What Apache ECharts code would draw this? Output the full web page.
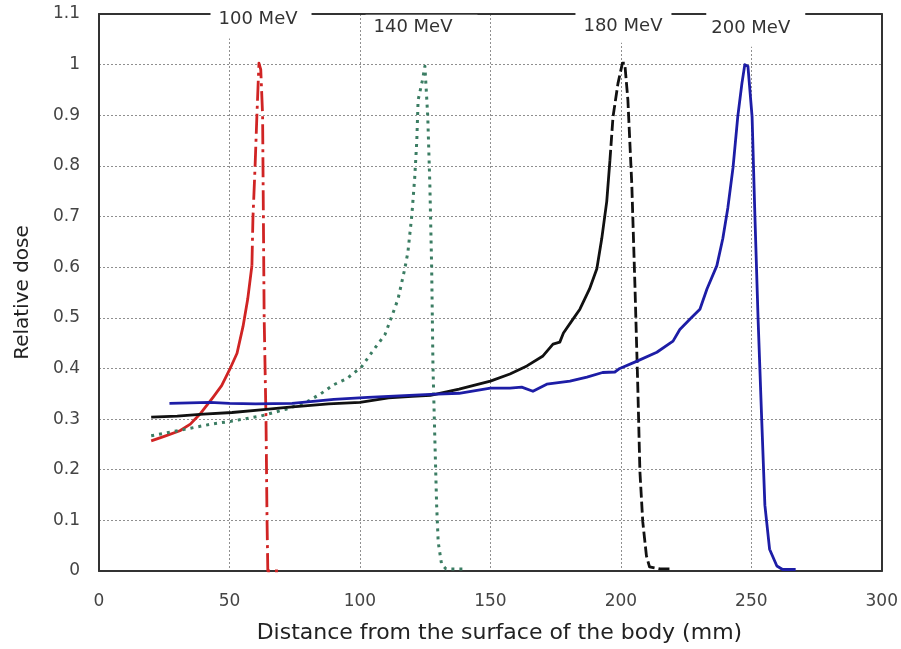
<!DOCTYPE html>
<html>
<head>
<meta charset="utf-8">
<script src="https://cdn.jsdelivr.net/npm/echarts@6/dist/echarts.min.js"></script>
<style>
  html, body { margin: 0; padding: 0; background: #fff; }
  #chart { width: 901px; height: 649px; }
</style>
</head>
<body>
<div id="chart"></div>
<script>
// Depth-dose curves, [depth (mm), relative dose]
// 100 MeV: proximal part (solid) and peak/fall-off (dash-dot)
const dose100Entrance = [[20,0.257],[25,0.266],[31,0.277],[35,0.29],[38.7,0.31],[41,0.325],[43.7,0.343],[47,0.366],[50,0.397],[52.9,0.43],[55.2,0.483],[57,0.537],[58.6,0.603]];
const dose100Peak = [[58.6,0.603],[59,0.697],[59.8,0.797],[60.5,0.897],[61.3,1.003],[62,0.99],[62.7,0.9],[63,0.7],[63.3,0.5],[64,0.3],[64.4,0.1],[64.7,0.0],[70,0.0]];
// 140 MeV (dotted)
const dose140 = [[20,0.267],[28,0.275],[35,0.282],[43,0.29],[51,0.296],[62,0.306],[72,0.32],[80,0.335],[85,0.35],[90,0.368],[95,0.38],[100.6,0.403],[105,0.435],[109.6,0.467],[112,0.5],[114.6,0.537],[117.2,0.597],[118.4,0.63],[119.9,0.703],[121,0.777],[121.8,0.85],[122.3,0.93],[124,0.97],[124.9,0.997],[126,0.897],[126.8,0.763],[127.5,0.597],[128,0.403],[128.7,0.263],[129.4,0.13],[130,0.057],[131.3,0.013],[133,0.004],[141,0.004]];
// 180 MeV: entrance (solid) and peak/fall-off (dashed)
const dose180Entrance = [[20,0.304],[30,0.306],[40,0.31],[51,0.313],[62,0.318],[72,0.323],[88,0.33],[100,0.333],[111,0.342],[120,0.345],[127,0.347],[138,0.359],[150,0.375],[157.5,0.389],[164,0.405],[170,0.424],[174,0.448],[176.6,0.452],[178,0.47],[181.6,0.497],[184.3,0.517],[188,0.557],[190.8,0.597],[192.7,0.657],[194.6,0.73],[195.8,0.81]];
const dose180Peak = [[195.8,0.81],[197,0.897],[198.9,0.963],[200.6,1.003],[201.5,1.003],[202.7,0.93],[204.2,0.763],[205.4,0.563],[206.5,0.363],[207.3,0.197],[208.4,0.097],[209.8,0.03],[211,0.008],[215,0.004],[220,0.004]];
// 200 MeV (solid)
const dose200 = [[27,0.331],[42.5,0.333],[50,0.331],[60,0.33],[74,0.331],[90,0.339],[103,0.343],[115,0.346],[127,0.349],[138,0.351],[150,0.361],[157.5,0.361],[162,0.363],[166.3,0.355],[171.6,0.369],[180.5,0.375],[187,0.383],[193,0.392],[197.7,0.393],[199.6,0.4],[206,0.414],[213.8,0.432],[220,0.454],[222.6,0.477],[227,0.5],[230.3,0.517],[233,0.557],[236.8,0.603],[239.1,0.657],[241,0.717],[243,0.797],[244.8,0.897],[246.4,0.963],[247.5,1.0],[248.7,0.997],[250.3,0.897],[251.4,0.697],[252.6,0.497],[254,0.297],[255.2,0.13],[257,0.043],[259.8,0.01],[262,0.003],[267,0.003]];

// Beam energy captions along the top edge
const energyNames = ['100 MeV', '140 MeV', '180 MeV', '200 MeV'];
const energyX = [62.1, 123.6, 201, 251.7];
const energyY = [1.089, 1.073, 1.075, 1.071];

// Axis ranges
const depthMin = 0, depthMax = 300, depthStep = 50;
const doseMin = 0, doseMax = 1.1, doseStep = 0.1;

const FONT = 'DejaVu Sans';
const frameLine = { show: true, onZero: false, lineStyle: { color: '#333', width: 2 } };
const gridDots = { show: true, showMinLine: false, showMaxLine: false, lineStyle: { color: '#8f8f8f', width: 1, type: [2, 2] } };

// white boxes behind the captions break the frame line
const captionPadding = [[7, 14, 13, 8], [3, 25, 5, 8], [8, 9, 6, 8], [8, 15, 10, 5]];

function curve(data, color, type, width) {
  return {
    type: 'line', data: data, showSymbol: false, symbol: 'none',
    lineStyle: { color: color, width: width || 2.8, type: type, cap: 'butt', join: 'round' },
    itemStyle: { color: color }, z: 3, silent: true
  };
}

const chart = echarts.init(document.getElementById('chart'), null, { renderer: 'canvas' });
chart.setOption({
  animation: false,
  backgroundColor: '#fff',
  grid: { left: 99, right: 19, top: 14, bottom: 77 },
  xAxis: [{
    type: 'value', min: depthMin, max: depthMax, interval: depthStep, position: 'bottom',
    axisLine: frameLine, axisTick: { show: false },
    axisLabel: { margin: 22, fontSize: 17, color: '#444', fontFamily: FONT },
    splitLine: gridDots,
    name: 'Distance from the surface of the body (mm)', nameLocation: 'middle', nameGap: 51,
    nameTextStyle: { fontSize: 22, color: '#222', fontFamily: FONT, padding: [0, 0, 0, 18] }
  }, {
    type: 'value', min: depthMin, max: depthMax, position: 'top',
    axisLine: frameLine, axisTick: { show: false }, axisLabel: { show: false }, splitLine: { show: false }
  }],
  yAxis: [{
    type: 'value', min: doseMin, max: doseMax, interval: doseStep, position: 'left',
    axisLine: frameLine, axisTick: { show: false },
    axisLabel: { margin: 19, fontSize: 17, color: '#444', fontFamily: FONT },
    splitLine: gridDots,
    name: 'Relative dose', nameLocation: 'middle', nameGap: 66,
    nameTextStyle: { fontSize: 20, color: '#222', fontFamily: FONT }
  }, {
    type: 'value', min: doseMin, max: doseMax, position: 'right',
    axisLine: frameLine, axisTick: { show: false }, axisLabel: { show: false }, splitLine: { show: false }
  }],
  series: [
    curve(dose100Entrance, '#d02424', 'solid'),
    curve(dose100Peak, '#d02424', [20, 5, 3, 5]),
    curve(dose140, '#3b7d63', [3, 5], 3),
    curve(dose180Entrance, '#111111', 'solid'),
    curve(dose180Peak, '#111111', [11, 4]),
    curve(dose200, '#1d1da6', 'solid')
  ]
});

// Captions: placed through the grid's coordinate system, drawn above the frame
chart.setOption({
  graphic: energyNames.map((n, i) => {
    const p = chart.convertToPixel({ gridIndex: 0 }, [energyX[i], energyY[i]]);
    return {
      type: 'text', x: p[0], y: p[1], z: 100, silent: true,
      style: {
        text: n, font: '18px "' + FONT + '"', fill: '#333',
        align: 'center', verticalAlign: 'middle',
        backgroundColor: '#fff', padding: captionPadding[i]
      }
    };
  })
});
</script>
</body>
</html>
